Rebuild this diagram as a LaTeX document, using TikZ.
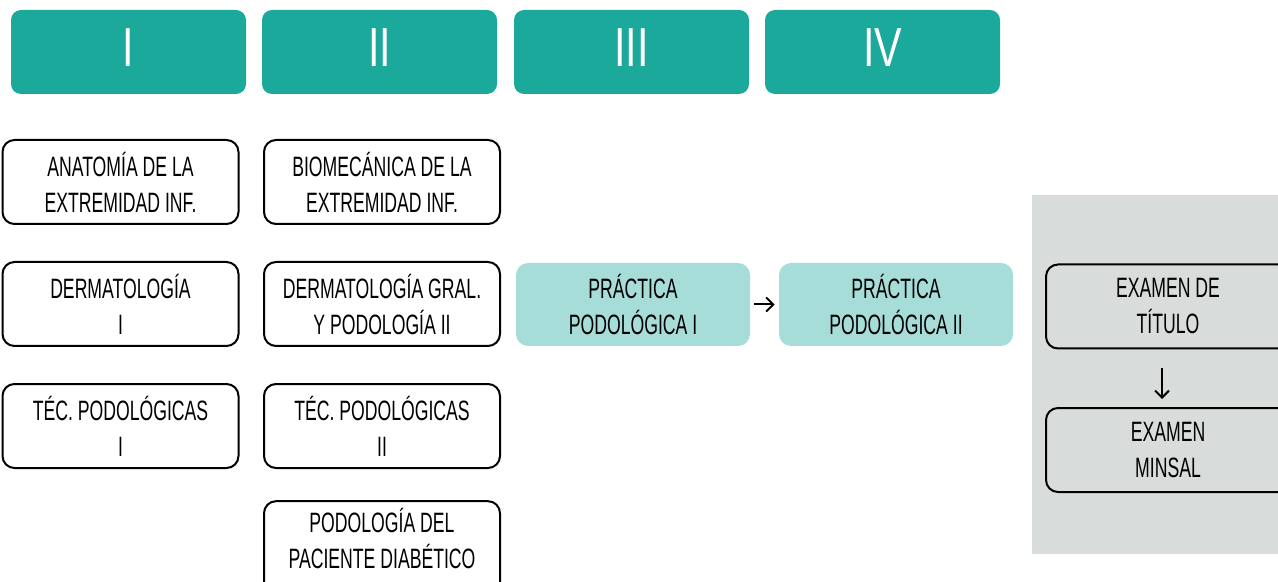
\documentclass[tikz,border=0pt]{standalone}
\usepackage{fontspec}
\setmainfont{Liberation Sans}[FakeStretch=0.63]
\newfontfamily\numfont{Liberation Sans}[FakeStretch=0.75]
\usepackage{tikz}
\usetikzlibrary{arrows.meta, positioning}
\definecolor{headteal}{HTML}{1BA99C}
\definecolor{softteal}{HTML}{A6DDD8}
\definecolor{panelgray}{HTML}{D8DCDB}
\tikzset{
	semester/.style={fill=headteal, text=white, rounded corners=5pt, minimum width=117.5pt, minimum height=42pt, text depth=4.5pt, font={\numfont\fontsize{27.5}{30}\selectfont}},
	course/.style={draw, line width=1pt, rounded corners=6pt, minimum width=118pt, minimum height=42pt, align=center, font={\fontsize{14}{18}\selectfont}},
	practice/.style={fill=softteal, rounded corners=6pt, minimum width=117pt, minimum height=41.5pt, align=center, font={\fontsize{14}{18}\selectfont}}
}

\begin{document}
\begin{tikzpicture}[x=0.5pt, y=-0.5pt, >={Straight Barb[length=3.5pt,width=7pt]}]
		\useasboundingbox (0,0) rectangle (1278,582);
		
		% gray panel for the exams
		\fill[panelgray] (1032,195) rectangle (1278,554);
		
		% semester headers
		\node[semester] (s1) at (128.5,52) {I};
		\node[semester] (s2) at (379.5,52) {II};
		\node[semester] (s3) at (631.5,52) {III};
		\node[semester] (s4) at (882.5,52) {IV};
		
		% first semester courses
		\node[course] (anat) at (120.5,182) {ANATOMÍA DE LA\\EXTREMIDAD INF.};
		\node[course] (derm) at (120.5,304) {DERMATOLOGÍA\\I};
		\node[course] (tec) at (120.5,426) {TÉC. PODOLÓGICAS\\I};
		
		% second semester courses
		\node[course] (biom) at (382,182) {BIOMECÁNICA DE LA\\EXTREMIDAD INF.};
		\node[course] (dermii) at (382,304) {DERMATOLOGÍA GRAL.\\Y PODOLOGÍA II};
		\node[course] (tecii) at (382,426) {TÉC. PODOLÓGICAS\\II};
		\node[course, text depth=28pt] (diab) at (382,566) {PODOLOGÍA DEL\\PACIENTE DIABÉTICO};
		
		% practices
		\node[practice] (prac) at (633,304.5) {PRÁCTICA\\PODOLÓGICA I};
		\node[practice] (pracii) at (896,304.5) {PRÁCTICA\\PODOLÓGICA II};
		\draw[->, line width=1pt, shorten <=2pt, shorten >=2pt] (prac) -- (pracii);
		
		% exams
		\node[course, minimum width=122pt] (tit) at (1168,306.5) {EXAMEN DE\\TÍTULO};
		\node[course, minimum width=122pt] (minsal) at (1168,450) {EXAMEN\\MINSAL};
		\draw[->, line width=1pt, shorten <=9pt, shorten >=4pt] ([xshift=-3pt]tit.south) -- ([xshift=-3pt]minsal.north);
		
	\end{tikzpicture}
\end{document}
